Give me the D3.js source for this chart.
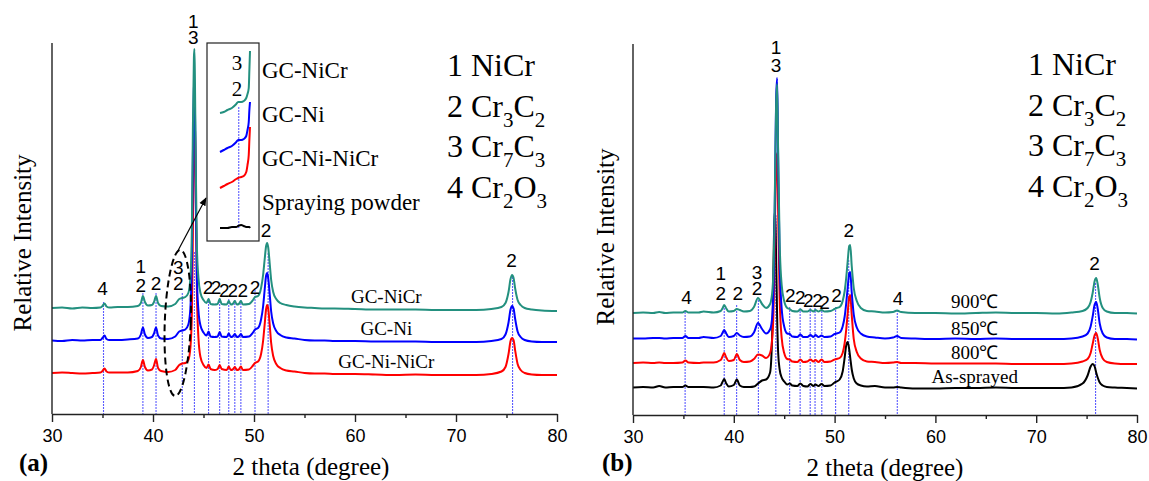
<!DOCTYPE html>
<html>
<head>
<meta charset="utf-8">
<script src="https://cdn.jsdelivr.net/npm/d3@7"></script>
<style>
body { margin: 0; background: #fff; }
.serif { font-family: "Liberation Serif", "Times New Roman", serif; }
.sans { font-family: "Liberation Sans", Arial, sans-serif; }
</style>
</head>
<body>
<svg width="1149" height="481"></svg>
<script>
// ---------- panel (a) : coatings ----------
var thetaA = [30, 31, 32, 33, 34, 34.8, 35.0, 35.2, 35.4, 35.7,
  36.5, 37.5, 38.5, 38.8, 39.0, 39.2, 39.5, 39.9, 40.1, 40.3,
  40.5, 40.8, 41.5, 42.2, 42.6, 42.9, 43.2, 43.5, 43.7, 43.85,
  43.95, 44.05, 44.1, 44.15, 44.25, 44.35, 44.5, 44.7, 45.0, 45.3,
  45.5, 45.7, 46.1, 46.4, 46.6, 46.8, 47.3, 47.5, 47.7, 47.9,
  48.1, 48.3, 48.5, 48.7, 48.9, 49.5, 49.9, 50.1, 50.4, 50.7,
  50.9, 51.05, 51.2, 51.3, 51.4, 51.55, 51.7, 51.9, 52.2, 52.6,
  53.2, 54, 55, 56, 57, 58, 60, 62, 64, 66,
  68, 70, 72, 73.5, 74.5, 74.9, 75.2, 75.4, 75.55, 75.7,
  75.85, 76.1, 76.4, 76.8, 77.5, 78.5, 80];

var gcNiCr = [0, 5, -5, 5, 0, 5, 20, 45, 15, 5,
  10, 10, 20, 50, 120, 60, 25, 30, 60, 120,
  50, 20, 15, 40, 90, 100, 110, 150, 300, 800,
  1800, 2500, 2590, 2300, 1300, 600, 300, 150, 80, 50,
  90, 40, 35, 40, 90, 40, 35, 70, 35, 40,
  70, 35, 40, 70, 35, 40, 80, 110, 120, 200,
  330, 480, 620, 650, 610, 450, 280, 160, 90, 50,
  30, 15, 5, 0, -5, -5, -10, -15, -15, -15,
  -20, -20, -20, -10, 10, 50, 160, 290, 330, 300,
  200, 80, 30, 0, -15, -25, -30];

var gcNi = [0, -5, 5, 0, 5, 5, 25, 50, 15, 5,
  5, 10, 20, 60, 130, 60, 25, 35, 70, 130,
  50, 20, 15, 40, 90, 100, 110, 160, 320, 850,
  1850, 2520, 2590, 2350, 1350, 620, 300, 150, 80, 50,
  90, 40, 35, 40, 85, 40, 35, 70, 35, 40,
  65, 35, 40, 65, 35, 40, 80, 110, 125, 210,
  340, 500, 650, 675, 630, 470, 290, 170, 95, 55,
  30, 20, 5, 0, 0, -5, -5, -10, -10, -10,
  -15, -15, -15, -5, 15, 60, 180, 310, 345, 320,
  220, 90, 35, 5, -10, -15, -15];

var gcNiNiCr = [0, 5, 0, -5, 0, 5, 20, 45, 15, 5,
  5, 5, 20, 60, 130, 60, 25, 35, 75, 140,
  50, 20, 10, 30, 80, 95, 100, 130, 250, 600,
  1400, 2300, 2550, 2590, 1700, 800, 350, 160, 80, 50,
  85, 40, 30, 40, 80, 40, 30, 65, 30, 35,
  60, 30, 35, 65, 30, 35, 75, 100, 115, 190,
  320, 480, 640, 680, 650, 490, 300, 170, 90, 50,
  25, 15, 0, -5, -5, -10, -10, -15, -20, -15,
  -20, -20, -20, -10, 15, 60, 190, 320, 350, 330,
  230, 90, 30, 0, -15, -20, -20];

var namesA = ["GC-Ni-NiCr", "GC-Ni", "GC-NiCr"];
var offsetsA = [410, 735, 1060];
var colorsA = ["#ff0000", "#0000ff", "#23907f"];
var nameLevelA = [530, 860, 1180];

var refThetaA = [35.1, 39.0, 40.3, 42.9, 44.1, 45.5, 46.6, 47.5, 48.1, 48.7, 50.1, 51.4, 75.6];
var refTopA = [1120, 1210, 1210, 1210, 1620, 1160, 1160, 1150, 1140, 1140, 1240, 1610, 1370];

var labThetaA = [35.0, 38.8, 38.8, 40.3, 42.5, 42.5, 44.0, 44.0, 45.45, 46.25, 47.05, 47.9, 48.9, 50.1, 51.2, 75.5];
var labTextA = ["4", "1", "2", "2", "3", "2", "1", "3", "2", "2", "2", "2", "2", "2", "2", "2"];
var labLevelA = [1260, 1480, 1290, 1310, 1470, 1310, 3930, 3770, 1270, 1270, 1240, 1240, 1240, 1270, 1840, 1540];

// inset of (a): 41.6-44 deg, four samples
var insetTheta = [41.6, 41.9, 42.2, 42.55, 42.9, 43.05, 43.3, 43.5, 43.7, 43.8, 43.9, 43.95, 44.0];
var insetNiCr = [1170, 1180, 1200, 1220, 1260, 1280, 1280, 1290, 1320, 1360, 1420, 1600, 1790];
var insetNi = [780, 800, 820, 840, 880, 900, 900, 910, 940, 1000, 1080, 1200, 1280];
var insetNiNiCr = [420, 440, 460, 480, 510, 520, 530, 540, 580, 650, 750, 900, 1030];
var insetPowder = [20, 20, 20, 30, 30, 40, 50, 40, 30, 30, 30, 30, 20];
var insetNames = ["GC-NiCr", "GC-Ni", "GC-Ni-NiCr", "Spraying powder"];

// ---------- panel (b) : heat treatment ----------
var thetaB = [30, 31, 32, 32.6, 33.2, 34, 34.9, 35.2, 35.5, 36.5,
  37, 38, 38.7, 38.9, 39.05, 39.25, 39.5, 40.0, 40.3, 40.6,
  41.0, 41.6, 42.0, 42.4, 42.8, 43.2, 43.6, 43.85, 44.0, 44.1,
  44.2, 44.3, 44.4, 44.55, 44.75, 45.0, 45.3, 45.55, 45.8, 46.3,
  46.6, 46.9, 47.3, 47.6, 47.9, 48.1, 48.4, 48.7, 49.0, 49.6,
  50.0, 50.2, 50.5, 50.8, 51.0, 51.15, 51.3, 51.45, 51.55, 51.7,
  51.9, 52.2, 52.6, 53.2, 54, 55, 55.8, 56.2, 56.6, 58,
  60, 62, 64, 66, 68, 70, 72, 73.5, 74.6, 75.1,
  75.4, 75.6, 75.8, 75.95, 76.1, 76.3, 76.6, 77, 77.8, 79,
  80];

var t900 = [0, 5, 0, 10, 0, 5, 5, 20, 5, 5,
  15, 5, 20, 50, 80, 45, 15, 20, 40, 30,
  15, 20, 60, 150, 90, 50, 90, 250, 700, 1400,
  2100, 2290, 1600, 700, 280, 120, 50, 40, 20, 15,
  35, 15, 15, 30, 15, 30, 15, 30, 15, 20,
  40, 50, 60, 120, 220, 350, 520, 670, 680, 470,
  250, 120, 50, 20, 15, 5, 10, 25, 10, 0,
  0, -5, 0, 5, 0, 0, -5, 5, 20, 50,
  110, 200, 320, 350, 290, 150, 50, 15, 0, 0,
  -5];

var t850 = [0, 0, 5, 5, 0, 5, 5, 25, 5, 5,
  15, 5, 25, 60, 85, 50, 15, 25, 55, 30,
  15, 20, 60, 155, 95, 50, 90, 260, 800, 1600,
  2400, 2605, 1800, 750, 300, 120, 50, 45, 20, 15,
  40, 15, 15, 35, 15, 35, 15, 30, 15, 20,
  45, 50, 60, 120, 220, 350, 510, 650, 665, 460,
  240, 110, 50, 20, 10, 0, 10, 25, 5, 0,
  -5, 0, -5, 0, -5, -5, -5, 0, 20, 50,
  120, 220, 340, 365, 300, 150, 50, 10, -5, -5,
  -10];

var t800 = [0, 5, 0, 5, 0, 0, 5, 25, 5, 0,
  5, 5, 30, 70, 100, 55, 20, 30, 90, 30,
  10, 15, 40, 85, 75, 50, 100, 300, 800, 1500,
  2000, 2100, 1500, 650, 250, 100, 40, 35, 15, 10,
  35, 10, 15, 35, 15, 30, 10, 35, 10, 15,
  35, 40, 50, 100, 200, 330, 500, 660, 680, 480,
  240, 110, 45, 15, 10, 0, 5, 10, 0, 0,
  -5, -5, -5, -5, -10, -10, -10, -5, 15, 40,
  100, 190, 280, 300, 250, 130, 45, 10, -5, -10,
  -10];

var asSprayed = [0, 5, 0, 15, 0, 5, 5, 20, 5, 5,
  5, 0, 20, 60, 85, 40, 10, 25, 80, 20,
  5, 5, 10, 40, 70, 80, 150, 700, 1600, 1775,
  1300, 700, 350, 180, 100, 60, 30, 40, 20, 15,
  40, 15, 10, 35, 15, 30, 15, 35, 15, 20,
  50, 60, 80, 160, 300, 420, 455, 380, 300, 180,
  90, 40, 20, 10, 15, 0, 0, 5, 0, -10,
  -10, -5, -5, 0, -5, -5, -5, 0, 40, 120,
  210, 235, 210, 150, 100, 50, 20, 5, 0, -5,
  -10];

var namesB = ["As-sprayed", "800\u2103", "850\u2103", "900\u2103"];
var offsetsB = [275, 520, 765, 1020];
var colorsB = ["#000000", "#ff0000", "#0000ff", "#23907f"];
var nameLevelB = [390, 630, 870, 1140];

var refThetaB = [35.17, 39.05, 40.28, 42.44, 44.17, 45.54, 46.58, 47.58, 48.06, 48.73, 50.1, 51.4, 56.22, 75.89];
var refTopB = [1030, 1100, 1100, 1150, 2000, 1080, 1070, 1070, 1070, 1070, 1080, 1550, 1050, 1320];

var labThetaB = [35.3, 38.7, 38.7, 40.4, 42.3, 42.3, 44.2, 44.2, 45.6, 46.6, 47.4, 48.3, 49.0, 50.2, 51.4, 56.3, 75.8];
var labTextB = ["4", "1", "2", "2", "3", "2", "1", "3", "2", "2", "2", "2", "2", "2", "2", "4", "2"];
var labLevelB = [1180, 1420, 1220, 1220, 1430, 1270, 3680, 3495, 1200, 1180, 1150, 1150, 1130, 1200, 1850, 1170, 1520];

var xTicks = [30, 40, 50, 60, 70, 80];
var xMinor = [35, 45, 55, 65, 75];
var phases = [["1 NiCr"], ["2 Cr", "3", "C", "2"], ["3 Cr", "7", "C", "3"], ["4 Cr", "2", "O", "3"]];

var svg = d3.select("svg");

function drawPanel(p) {
  var x = d3.scaleLinear().domain([30, 80]).range(p.xr);
  var y = d3.scaleLinear().domain([0, 3710]).range(p.yr);
  var g = svg.append("g");

  // phase reference lines (dotted, blue)
  g.selectAll(".ref").data(p.refTheta).enter().append("line")
      .attr("x1", function(d) { return x(d); })
      .attr("x2", function(d) { return x(d); })
      .attr("y1", function(d, i) { return y(p.refTop[i]); })
      .attr("y2", y(0))
      .attr("stroke", "#5c5cff")
      .attr("stroke-width", 1.1)
      .attr("stroke-dasharray", "2,1");

  // patterns, lowest first so the top one is drawn last
  p.series.forEach(function(s, k) {
    var line = d3.line()
        .x(function(d, i) { return x(p.theta[i]); })
        .y(function(d) { return y(d + p.offsets[k]); })
        .curve(d3.curveMonotoneX);
    g.append("path").datum(s)
        .attr("d", line)
        .attr("fill", "none")
        .attr("stroke", p.colors[k])
        .attr("stroke-width", 2)
        .attr("stroke-linejoin", "round");
  });

  // sample names on the curves
  g.selectAll(".name").data(p.names).enter().append("text")
      .attr("class", "serif")
      .attr("x", x(p.nameTheta))
      .attr("y", function(d, i) { return y(p.nameLevel[i]); })
      .attr("dy", "0.35em")
      .attr("text-anchor", "middle")
      .style("font-size", "19px")
      .text(function(d) { return d; });

  // peak index labels
  g.selectAll(".lab").data(p.labText).enter().append("text")
      .attr("class", "sans")
      .attr("x", function(d, i) { return x(p.labTheta[i]); })
      .attr("y", function(d, i) { return y(p.labLevel[i]); })
      .attr("dy", "0.36em")
      .attr("text-anchor", "middle")
      .style("font-size", "19px")
      .text(function(d) { return d; });

  // x axis with major and minor ticks
  var ax = g.append("g")
      .attr("transform", "translate(0," + y(0) + ")")
      .call(d3.axisBottom(x).tickValues(xTicks).tickSize(8).tickSizeOuter(0).tickPadding(7));
  ax.selectAll("text").attr("class", "sans").style("font-size", "18px").attr("fill", "#000");
  ax.select(".domain").attr("stroke", "#222").attr("stroke-width", 1.4);
  ax.selectAll(".tick line").attr("stroke", "#222").attr("stroke-width", 1.4);
  var mx = g.append("g")
      .attr("transform", "translate(0," + y(0) + ")")
      .call(d3.axisBottom(x).tickValues(xMinor).tickSize(4).tickFormat(""));
  mx.select(".domain").remove();
  mx.selectAll(".tick line").attr("stroke", "#222").attr("stroke-width", 1.4);

  // y axis: plain line, no ticks
  g.append("line")
      .attr("x1", x(30)).attr("x2", x(30))
      .attr("y1", y(0)).attr("y2", y(3710))
      .attr("stroke", "#222").attr("stroke-width", 1.4);

  g.append("text").attr("class", "serif")
      .attr("transform", "translate(" + p.yTitle[0] + "," + p.yTitle[1] + ") rotate(-90)")
      .attr("text-anchor", "middle").attr("dy", "0.35em")
      .style("font-size", "25px")
      .text("Relative Intensity");
  g.append("text").attr("class", "serif")
      .attr("x", p.xTitle[0]).attr("y", p.xTitle[1])
      .attr("text-anchor", "middle")
      .style("font-size", "25px")
      .text("2 theta (degree)");
  g.append("text").attr("class", "serif")
      .attr("x", p.tag[0]).attr("y", p.tag[1])
      .style("font-size", "25px").style("font-weight", "bold")
      .text(p.tagText);

  // phase legend
  var lg = g.append("g").attr("class", "serif").style("font-size", "32px");
  phases.forEach(function(parts, i) {
    var t = lg.append("text").attr("x", p.legend[0]).attr("y", p.legend[1] + i * 40.5);
    parts.forEach(function(s, j) {
      var sp = t.append("tspan").text(s);
      if (j % 2 == 1) sp.attr("dy", 10).style("font-size", "21px");
      else if (j > 0) sp.attr("dy", -10);
    });
  });

  return { x: x, y: y, g: g };
}

var a = drawPanel({
  xr: [52, 557], yr: [414, 43],
  theta: thetaA, series: [gcNiNiCr, gcNi, gcNiCr],
  offsets: offsetsA, colors: colorsA,
  names: namesA, nameTheta: 63.1, nameLevel: nameLevelA,
  refTheta: refThetaA, refTop: refTopA,
  labTheta: labThetaA, labText: labTextA, labLevel: labLevelA,
  yTitle: [22, 243], xTitle: [311, 475], tag: [19, 471], tagText: "(a)",
  legend: [447, 76]
});

drawPanel({
  xr: [633, 1137], yr: [415, 44],
  theta: thetaB, series: [asSprayed, t800, t850, t900],
  offsets: offsetsB, colors: colorsB,
  names: namesB, nameTheta: 63.9, nameLevel: nameLevelB,
  refTheta: refThetaB, refTop: refTopB,
  labTheta: labThetaB, labText: labTextB, labLevel: labLevelB,
  yTitle: [605, 237], xTitle: [885, 476], tag: [602, 471], tagText: "(b)",
  legend: [1028, 75]
});

// ---------- inset and dashed ellipse on panel (a) ----------
var ga = a.g;
ga.append("ellipse")
    .attr("cx", a.x(42.45)).attr("cy", a.y(910))
    .attr("rx", 13).attr("ry", 73)
    .attr("transform", "rotate(2," + a.x(42.45) + "," + a.y(910) + ")")
    .attr("fill", "none").attr("stroke", "#000")
    .attr("stroke-width", 2).attr("stroke-dasharray", "7,4");

svg.append("defs").append("marker")
    .attr("id", "head").attr("viewBox", "0 0 10 10")
    .attr("refX", 9).attr("refY", 5)
    .attr("markerWidth", 7).attr("markerHeight", 7)
    .attr("orient", "auto")
  .append("path").attr("d", "M0,1 L10,5 L0,9 Z").attr("fill", "#000");

ga.append("line")
    .attr("x1", a.x(42.35)).attr("y1", a.y(1610))
    .attr("x2", 206).attr("y2", 198)
    .attr("stroke", "#000").attr("stroke-width", 1.2)
    .attr("marker-end", "url(#head)");

ga.append("rect")
    .attr("x", 207).attr("y", 43).attr("width", 52).attr("height", 198)
    .attr("fill", "none").attr("stroke", "#222").attr("stroke-width", 1.2);

var xi = d3.scaleLinear().domain([41.6, 44.0]).range([220, 250]);
var yi = d3.scaleLinear().domain([0, 1900]).range([230, 40]);

ga.append("line")
    .attr("x1", xi(43.1)).attr("x2", xi(43.1))
    .attr("y1", yi(1230)).attr("y2", yi(20))
    .attr("stroke", "#5c5cff").attr("stroke-width", 1.1).attr("stroke-dasharray", "2,1");

var insetLine = d3.line()
    .x(function(d, i) { return xi(insetTheta[i]); })
    .y(function(d) { return yi(d); })
    .curve(d3.curveMonotoneX);
[insetPowder, insetNiNiCr, insetNi, insetNiCr].forEach(function(s, k) {
  ga.append("path").datum(s).attr("d", insetLine)
      .attr("fill", "none")
      .attr("stroke", ["#000000", "#ff0000", "#0000ff", "#23907f"][k])
      .attr("stroke-width", 2);
});

ga.selectAll(".inlab").data(["3", "2"]).enter().append("text")
    .attr("class", "serif")
    .attr("x", xi(42.95))
    .attr("y", function(d, i) { return yi([1670, 1410][i]); })
    .attr("dy", "0.35em").attr("text-anchor", "middle")
    .style("font-size", "21px")
    .text(function(d) { return d; });

ga.selectAll(".inname").data(insetNames).enter().append("text")
    .attr("class", "serif")
    .attr("x", 262)
    .attr("y", function(d, i) { return 78 + i * 44; })
    .style("font-size", "23px")
    .text(function(d) { return d; });
</script>
</body>
</html>
